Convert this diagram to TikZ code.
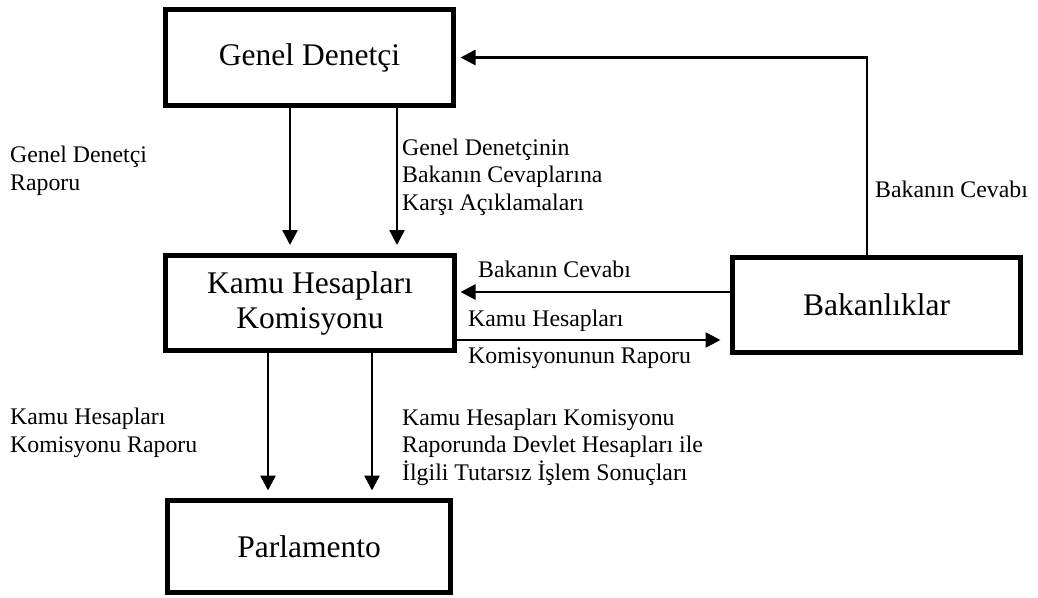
\documentclass[tikz,border=0pt]{standalone}
\usepackage{fontspec}
\setmainfont{Liberation Serif}
\usetikzlibrary{arrows.meta}
\begin{document}
\begin{tikzpicture}[x=1pt,y=-1pt,
  box/.style={draw=black,line width=5pt,inner sep=0pt,align=center,
    font=\fontsize{31.5}{35}\selectfont},
  lbl/.style={inner sep=0pt,anchor=base west,align=left,
    font=\fontsize{23.8}{27.5}\selectfont},
  arr/.style={line width=2.6pt,-{Triangle[length=15pt,width=15pt]}},
  conn/.style={line width=2.6pt}]
\useasboundingbox (0,0) rectangle (1038,597);
% boxes
\node[box,minimum width=288pt,minimum height=96pt] (gd) at (309.5,57.5) {Genel Denetçi};
\node[box,minimum width=289pt,minimum height=95pt] (kamu) at (310,303) {Kamu Hesapları\\Komisyonu};
\node[box,minimum width=288pt,minimum height=95pt] (bak) at (876.5,305) {Bakanlıklar};
\node[box,minimum width=283pt,minimum height=92pt] (parl) at (309,546.5) {Parlamento};
% helper coordinates
\coordinate (gd1) at ([xshift=-19.5pt]gd.south);
\coordinate (gd2) at ([xshift=87.5pt]gd.south);
\coordinate (k1) at ([xshift=-42pt]kamu.south);
\coordinate (k2) at ([xshift=62pt]kamu.south);
\coordinate (b1) at ([yshift=13pt]bak.west);
\coordinate (k3) at ([yshift=-37pt]kamu.east);
\coordinate (b2) at ([xshift=-9.5pt]bak.north);
% connectors
\draw[arr,shorten >=8pt] (gd1) -- (gd1 |- kamu.north);
\draw[arr,shorten >=8pt] (gd2) -- (gd2 |- kamu.north);
\draw[arr,shorten >=7.5pt] (k1) -- (k1 |- parl.north);
\draw[arr,shorten >=7.5pt] (k2) -- (k2 |- parl.north);
\draw[arr,shorten >=3.5pt] (b1) -- (b1 -| kamu.east);
\draw[arr,shorten >=9.5pt] (k3) -- (k3 -| bak.west);
\draw[arr,shorten >=4.5pt] (b2) |- (gd.east);
% labels (base anchor = baseline of the last line)
\node[lbl] (l1) at (10,190) {Genel Denetçi\\Raporu};
\node[lbl] (l2) at (402,210) {Genel Denetçinin\\Bakanın Cevaplarına\\Karşı Açıklamaları};
\node[lbl] (l3) at (875,197) {Bakanın Cevabı};
\node[lbl] (l4) at (478,277) {Bakanın Cevabı};
\node[lbl] (l5) at (468,326) {Kamu Hesapları};
\node[lbl] (l6) at (468,363) {Komisyonunun Raporu};
\node[lbl] (l7) at (10,452) {Kamu Hesapları\\Komisyonu Raporu};
\node[lbl] (l8) at (402,480) {Kamu Hesapları Komisyonu\\Raporunda Devlet Hesapları ile\\İlgili Tutarsız İşlem Sonuçları};
\end{tikzpicture}
\end{document}
